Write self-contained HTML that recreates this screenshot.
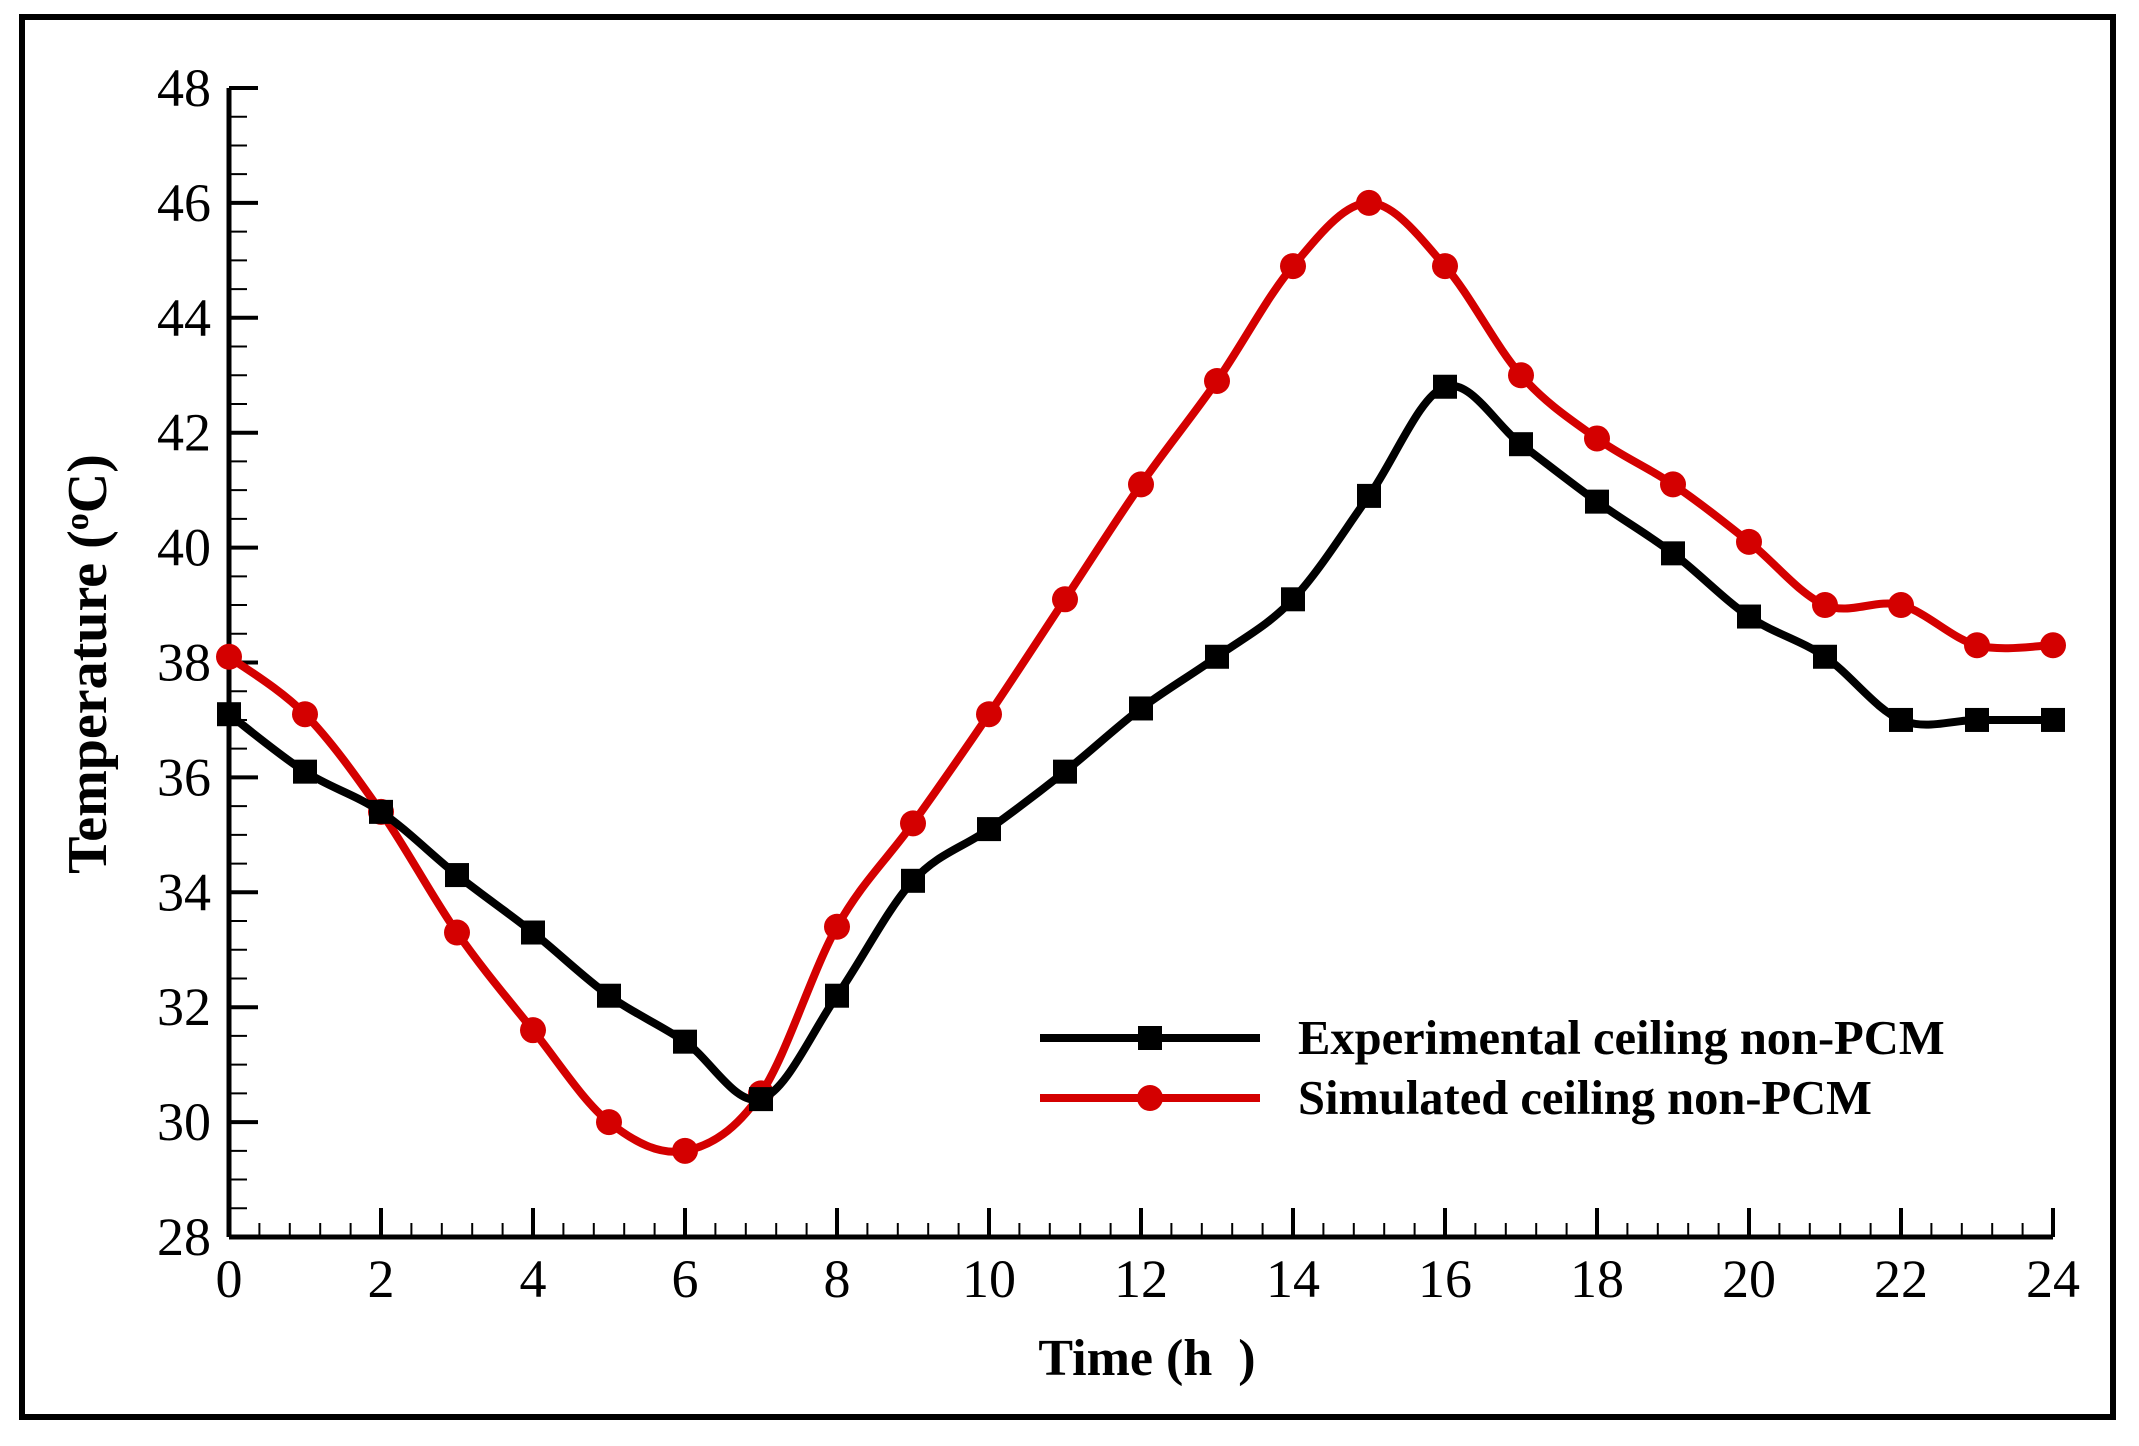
<!DOCTYPE html>
<html><head><meta charset="utf-8"><style>
html,body{margin:0;padding:0;background:#fff;}
svg{display:block;font-family:"Liberation Serif",serif;}
</style></head><body>
<svg id="chart" width="2139" height="1446" viewBox="0 0 2139 1446">
<rect x="22" y="17" width="2091" height="1400" fill="#fff" stroke="#000" stroke-width="6"/>
<g id="axes"></g>
<g id="series"></g>
<text x="0" y="0" transform="translate(106,664) rotate(-90)" text-anchor="middle" font-weight="bold" font-size="56">Temperature (<tspan baseline-shift="super" font-size="34">o</tspan>C)</text>
<text x="1147" y="1375" text-anchor="middle" font-weight="bold" font-size="52">Time (h&#160;&#160;)</text>
<g>
<line x1="1040" y1="1038" x2="1260" y2="1038" stroke="#000" stroke-width="8"/>
<rect x="1138" y="1026" width="24" height="24" fill="#000"/>
<text x="1298" y="1054" font-weight="bold" font-size="48.5">Experimental ceiling non-PCM</text>
<line x1="1040" y1="1098" x2="1260" y2="1098" stroke="#d40000" stroke-width="8"/>
<circle cx="1150" cy="1098" r="13" fill="#d40000"/>
<text x="1298" y="1114" font-weight="bold" font-size="48.5">Simulated ceiling non-PCM</text>
</g>
</svg>
<script>
const hours = [0,1,2,3,4,5,6,7,8,9,10,11,12,13,14,15,16,17,18,19,20,21,22,23,24];
const experimental = [37.1,36.1,35.4,34.3,33.3,32.2,31.4,30.4,32.2,34.2,35.1,36.1,37.2,38.1,39.1,40.9,42.8,41.8,40.8,39.9,38.8,38.1,37.0,37.0,37.0];
const simulated = [38.1,37.1,35.4,33.3,31.6,30.0,29.5,30.5,33.4,35.2,37.1,39.1,41.1,42.9,44.9,46.0,44.9,43.0,41.9,41.1,40.1,39.0,39.0,38.3,38.3];
const xTicks = [0,2,4,6,8,10,12,14,16,18,20,22,24];
const yTicks = [28,30,32,34,36,38,40,42,44,46,48];

const NS="http://www.w3.org/2000/svg";
const X0=229,X1=2053,Y0=1237,Y1=88;
const xs=h=>X0+(h-0)/(24-0)*(X1-X0);
const ys=v=>Y0-(v-28)/(48-28)*(Y0-Y1);
function mk(tag,attrs,parent){const e=document.createElementNS(NS,tag);for(const k in attrs)e.setAttribute(k,attrs[k]);parent.appendChild(e);return e;}
const axes=document.getElementById('axes');
const series=document.getElementById('series');
let el=mk('line',{x1:X0,y1:Y1,x2:X0,y2:Y0,stroke:'#000','stroke-width':5},axes);


el=mk('line',{x1:X0,y1:Y0,x2:X1,y2:Y0,stroke:'#000','stroke-width':5},axes);


for(let m=0;m<=60;m++){const h=m*0.4;const x=xs(h);const major=(m%5===0);
 el=mk('line',{x1:x,y1:Y0,x2:x,y2:Y0-(major?29:14),stroke:'#000','stroke-width':major?4:2},axes);
 
 }
for(let m=0;m<=40;m++){const v=28+m*0.5;const y=ys(v);const major=(m%4===0);
 el=mk('line',{x1:X0,y1:y,x2:X0+(major?29:18),y2:y,stroke:'#000','stroke-width':major?4:2},axes);
 
 }
xTicks.forEach(t=>{el=mk('text',{x:xs(t),y:Y0+60,'text-anchor':'middle','font-size':54},axes);el.textContent=t;
 
 });
yTicks.forEach(t=>{el=mk('text',{x:X0-18,y:ys(t)+18,'text-anchor':'end','font-size':54},axes);el.textContent=t;
 
 });
function smooth(pts){let d=`M${pts[0][0]},${pts[0][1]}`;
 for(let i=0;i<pts.length-1;i++){const p0=pts[Math.max(0,i-1)],p1=pts[i],p2=pts[i+1],p3=pts[Math.min(pts.length-1,i+2)];
  const c1=[p1[0]+(p2[0]-p0[0])/6,p1[1]+(p2[1]-p0[1])/6],c2=[p2[0]-(p3[0]-p1[0])/6,p2[1]-(p3[1]-p1[1])/6];
  d+=` C${c1[0]},${c1[1]} ${c2[0]},${c2[1]} ${p2[0]},${p2[1]}`;}
 return d;}
function draw(vals,color,name,marker){
 const pts=hours.map((h,i)=>[xs(h),ys(vals[i])]);
 el=mk('path',{d:smooth(pts),fill:'none',stroke:color,'stroke-width':8},series);
 
 
 pts.forEach(p=>{
  if(marker==='sq'){el=mk('rect',{x:p[0]-12,y:p[1]-12,width:24,height:24,fill:color},series);}
  else{el=mk('circle',{cx:p[0],cy:p[1],r:13,fill:color},series);}
  
  });}
draw(simulated,'#d40000','simulated','ci');
draw(experimental,'#000','experimental','sq');
</script>
</body></html>
